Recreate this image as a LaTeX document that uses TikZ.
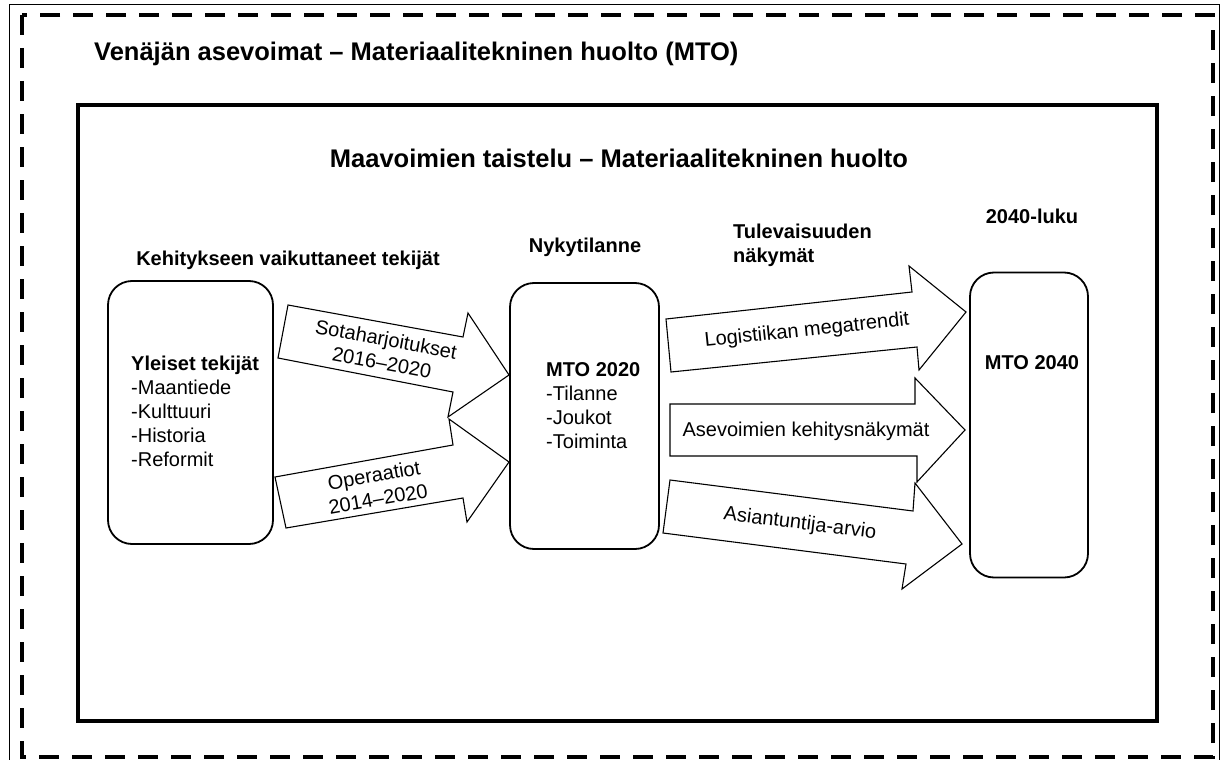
\documentclass[tikz,border=0pt]{standalone}
\usepackage{fontspec}
\setmainfont{Liberation Sans}
\begin{document}
\begin{tikzpicture}[x=1pt,y=-1pt,
  thinframe/.style={line width=1pt},
  dashframe/.style={line width=4.8pt, dash pattern=on 20pt off 13pt},
  solidframe/.style={line width=4pt},
  stagebox/.style={draw, line width=1.8pt, rounded corners=24pt, inner sep=0pt},
  blockarrow/.style={draw, line width=1.1pt, fill=white, line join=miter},
  lbl/.style={font=\fontsize{20}{24}\selectfont, inner sep=0pt},
  hdr/.style={font=\bfseries\fontsize{20}{24}\selectfont, inner sep=0pt},
  ttl/.style={font=\bfseries\fontsize{25.5}{30}\selectfont, inner sep=0pt}]
\useasboundingbox (0,0) rectangle (1229,760);
\fill[white] (0,0) rectangle (1229,760);
% frames
\draw[thinframe] (9,765) -- (9,5) -- (1219,5) -- (1219,765);
\draw[dashframe] (22,15) rectangle (1213,757);
\draw[solidframe] (78,105) rectangle (1157,721);
% titles
\node[ttl, anchor=base west] (title1) at (94,61) {Venäjän asevoimat – Materiaalitekninen huolto (MTO)};
\node[ttl] (title2) at (619,158) {Maavoimien taistelu – Materiaalitekninen huolto};
% column headers
\node[hdr] (h1) at (288,260) {Kehitykseen vaikuttaneet tekijät};
\node[hdr] (h2) at (585,247) {Nykytilanne};
\node[hdr, anchor=west, align=left] (h3) at (733,245) {Tulevaisuuden\\näkymät};
\node[hdr] (h4) at (1032,216) {2040-luku};
% boxes
\node[stagebox, minimum width=165pt, minimum height=263pt] (b1) at (190.5,412.5) {};
\node[stagebox, minimum width=149pt, minimum height=266pt] (b2) at (584.5,416) {};
\node[stagebox, minimum width=118pt, minimum height=305pt] (b3) at (1029,425) {};
\node[lbl, anchor=west, align=left] (b1t) at (131,411)
  {\textbf{Yleiset tekijät}\\-Maantiede\\-Kulttuuri\\-Historia\\-Reformit};
\node[lbl, anchor=west, align=left] (b2t) at (546,406)
  {\textbf{MTO 2020}\\-Tilanne\\-Joukot\\-Toiminta};
\node[hdr] (b3t) at (1032,363) {MTO 2040};
% block arrows
\draw[blockarrow] (288,305) -- (463,337) -- (468,313) -- (509,375) -- (448,417) -- (453,392) -- (278,358) -- cycle;
\draw[blockarrow] (275,477) -- (453,445) -- (449,419) -- (509,462) -- (467,522) -- (463,498) -- (286,528) -- cycle;
\draw[blockarrow] (666,319) -- (912,292) -- (909,266) -- (966,312) -- (919,370) -- (917,347) -- (671,372) -- cycle;
\draw[blockarrow] (670,404) -- (915,404) -- (915,378) -- (965,430) -- (917,482) -- (917,456) -- (670,456) -- cycle;
\draw[blockarrow] (670,480) -- (913,511) -- (915,483) -- (962,544) -- (902,589) -- (906,564) -- (663,533) -- cycle;
% arrow labels
\node[lbl, align=center, rotate=-10.5] (a1) at (384,351) {Sotaharjoitukset\\2016–2020};
\node[lbl, align=center, rotate=10] (a2) at (376,487) {Operaatiot\\2014–2020};
\node[lbl, rotate=6] (a3) at (807,331) {Logistiikan megatrendit};
\node[lbl] (a4) at (806,431) {Asevoimien kehitysnäkymät};
\node[lbl, rotate=-7] (a5) at (800,524) {Asiantuntija-arvio};
\end{tikzpicture}
\end{document}
